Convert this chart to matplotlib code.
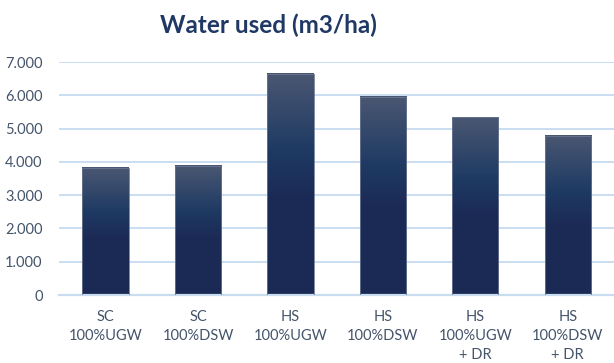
import numpy as np
import matplotlib
matplotlib.use("Agg")
import matplotlib.pyplot as plt
from matplotlib.colors import LinearSegmentedColormap

categories = ["SC\n100%UGW", "SC\n100%DSW", "HS\n100%UGW", "HS\n100%DSW",
              "HS\n100%UGW\n+ DR", "HS\n100%DSW\n+ DR"]
water_used = [3830, 3890, 6650, 5960, 5340, 4790]
y_ticks = [0, 1000, 2000, 3000, 4000, 5000, 6000, 7000]
y_tick_labels = ["0", "1.000", "2.000", "3.000", "4.000", "5.000", "6.000", "7.000"]
title = "Water used (m3/ha)"

label_color = "#44546a"
grid_color = "#c9ddf1"

fig = plt.figure(figsize=(6.14, 3.63), dpi=100)
ax = fig.add_axes([0.0967, 0.1873, 0.9033, 0.6418])

x = np.arange(len(categories))
bars = ax.bar(x, water_used, width=0.5, facecolor="none",
              edgecolor="#6b7792", linewidth=0.6, zorder=3)

# vertical gradient fill for each bar: grey-blue top, blue middle, navy bottom
grad_cmap = LinearSegmentedColormap.from_list(
    "bar_grad", [(0.0, "#1b2a55"), (0.45, "#1b2b56"), (0.65, "#1e3a63"),
                 (1.0, "#4a5772")])
grad = np.linspace(0, 1, 512).reshape(-1, 1)
for b in bars:
    x0 = b.get_x()
    x1 = x0 + b.get_width()
    h = b.get_height()
    ax.imshow(grad, extent=(x0, x1, 0, h), origin="lower", cmap=grad_cmap,
              aspect="auto", zorder=2, interpolation="nearest")

ax.set_xlim(-0.5, len(categories) - 0.5)
ax.set_ylim(0, 7000)
ax.set_yticks(y_ticks)
ax.set_yticklabels(y_tick_labels)
ax.set_xticks(x)
ax.set_xticklabels(categories, linespacing=1.42)

ax.yaxis.grid(True, color=grid_color, linewidth=1.4, zorder=0)
ax.set_axisbelow(True)
for s in ["top", "right", "left"]:
    ax.spines[s].set_visible(False)
ax.spines["bottom"].set_color(grid_color)
ax.spines["bottom"].set_linewidth(1.6)
ax.tick_params(axis="both", length=0, colors=label_color, labelsize=10.5)
ax.tick_params(axis="y", pad=12)
ax.tick_params(axis="x", pad=11)
for lbl in ax.get_xticklabels() + ax.get_yticklabels():
    lbl.set_family("Lato")
    lbl.set_color(label_color)

fig.text(0.437, 0.93, title, ha="center", va="center", fontsize=17.5,
         fontweight="bold", color="#1f3864", family="Lato")

fig.savefig("out.png", dpi=100)
